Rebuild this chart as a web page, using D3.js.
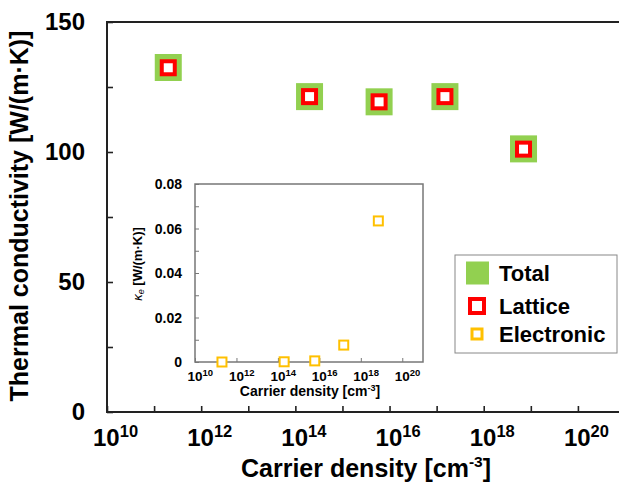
<!DOCTYPE html>
<html>
<head>
<meta charset="utf-8">
<script src="https://cdn.jsdelivr.net/npm/d3@7"></script>
<style>
  body { margin: 0; background: #fff; }
  text { font-family: Arial, "Liberation Sans", sans-serif; fill: #000; }
</style>
</head>
<body>
<svg id="chart" width="619" height="489"></svg>
<script>
// data
const density = [2e11, 2e14, 6e15, 1.5e17, 7e18]
const total = [132.5, 121.3, 119.3, 121.3, 101.2]
const lattice = [132.4, 121.3, 119.3, 121.3, 101.1]
const electronic = [0.0000, 0.0001, 0.0005, 0.0076, 0.0634]
const xTickExp = [10, 12, 14, 16, 18, 20]
const yTicks = [0, 50, 100, 150]
const insetYTicks = [0, 0.02, 0.04, 0.06, 0.08]
const legendNames = ['Total', 'Lattice', 'Electronic']

const colors = { total: '#92d050', lattice: '#ff0000', electronic: '#ffc000' }

const svg = d3.select('#chart')

// ---- main plot ----
const x = d3.scaleLog().domain([1e10, 1e21]).range([107, 625])
const y = d3.scaleLinear().domain([0, 150]).range([412, 22])

// ticks (inward)
svg.append('g')
  .attr('transform', 'translate(0,412)')
  .call(d3.axisBottom(x).tickValues(d3.range(10, 21).map(e => Math.pow(10, e))).tickSize(-6).tickFormat(''))
  .call(g => g.select('.domain').remove())
  .selectAll('line').attr('stroke', '#222').attr('stroke-width', 1.6)

svg.append('g')
  .attr('transform', 'translate(107,0)')
  .call(d3.axisLeft(y).tickValues(d3.range(0, 151, 25)).tickSize(-6).tickFormat(''))
  .call(g => g.select('.domain').remove())
  .selectAll('line').attr('stroke', '#222').attr('stroke-width', 1.6)

// frame
svg.append('path')
  .attr('d', `M${x(1e21)},${y(150)}H${x(1e10)}V${y(0)}H${x(1e21)}`)
  .attr('fill', 'none').attr('stroke', '#222').attr('stroke-width', 2)

// x tick labels with superscripts
const xl = svg.append('g').selectAll('text').data(xTickExp).join('text')
  .attr('x', d => x(Math.pow(10, d)) - 14)
  .attr('y', 446)
  .attr('font-size', 24).attr('font-weight', 'bold')
xl.append('tspan').text('10')
xl.append('tspan').attr('font-size', 16.5).attr('dy', -9).text(d => d)

svg.append('g').selectAll('text').data(yTicks).join('text')
  .attr('x', 85).attr('y', d => y(d) + 8)
  .attr('text-anchor', 'end')
  .attr('font-size', 24).attr('font-weight', 'bold')
  .text(d => d)

// axis titles
const xt = svg.append('text')
  .attr('x', 366).attr('y', 477)
  .attr('text-anchor', 'middle')
  .attr('font-size', 25).attr('font-weight', 'bold')
xt.append('tspan').text('Carrier density [cm')
xt.append('tspan').attr('font-size', 15.5).attr('dy', -10).text('-3')
xt.append('tspan').attr('dy', 10).text(']')

svg.append('text')
  .attr('transform', 'translate(28,216) rotate(-90)')
  .attr('text-anchor', 'middle')
  .attr('font-size', 25).attr('font-weight', 'bold')
  .text('Thermal conductivity [W/(m\u00b7K)]')

// markers
const pts = density.map((d, i) => ({ d, total: total[i], lattice: lattice[i], electronic: electronic[i] }))

svg.append('g').selectAll('rect').data(pts).join('rect')
  .attr('x', p => x(p.d) - 13.5).attr('y', p => y(p.total) - 13.5)
  .attr('width', 27).attr('height', 27)
  .attr('fill', colors.total)

svg.append('g').selectAll('rect').data(pts).join('rect')
  .attr('x', p => x(p.d) - 6.5).attr('y', p => y(p.lattice) - 6.5)
  .attr('width', 13).attr('height', 13)
  .attr('fill', '#fff').attr('stroke', colors.lattice).attr('stroke-width', 4)

// ---- inset ----
const ix = d3.scaleLog().domain([1e10, 1e21]).range([195, 423])
const iy = d3.scaleLinear().domain([0, 0.08]).range([362, 184])

svg.append('rect')
  .attr('x', 195).attr('y', 184).attr('width', 228).attr('height', 178)
  .attr('fill', '#fff').attr('stroke', '#777').attr('stroke-width', 1.5)

svg.append('g')
  .attr('transform', 'translate(0,362)')
  .call(d3.axisBottom(ix).tickValues(xTickExp.map(e => Math.pow(10, e))).tickSize(-4).tickFormat(''))
  .call(g => g.select('.domain').remove())
  .selectAll('line').attr('stroke', '#777')

svg.append('g')
  .attr('transform', 'translate(195,0)')
  .call(d3.axisLeft(iy).tickValues(d3.range(0, 9).map(i => i * 0.01)).tickSize(-4).tickFormat(''))
  .call(g => g.select('.domain').remove())
  .selectAll('line').attr('stroke', '#777')

svg.append('g').selectAll('text').data(insetYTicks).join('text')
  .attr('x', 182).attr('y', d => iy(d) + 5)
  .attr('text-anchor', 'end')
  .attr('font-size', 14).attr('font-weight', 'bold')
  .text(d => d === 0 ? '0' : d.toFixed(2))

const ixl = svg.append('g').selectAll('text').data(xTickExp).join('text')
  .attr('x', d => ix(Math.pow(10, d)) - 7.5)
  .attr('y', 381)
  .attr('font-size', 13.5).attr('font-weight', 'bold')
ixl.append('tspan').text('10')
ixl.append('tspan').attr('font-size', 9.5).attr('dy', -5.5).text(d => d)

const ixt = svg.append('text')
  .attr('x', 310).attr('y', 396)
  .attr('text-anchor', 'middle')
  .attr('font-size', 14).attr('font-weight', 'bold')
ixt.append('tspan').text('Carrier density [cm')
ixt.append('tspan').attr('font-size', 9).attr('dy', -5.5).text('-3')
ixt.append('tspan').attr('dy', 5.5).text(']')

const iyt = svg.append('text')
  .attr('transform', 'translate(142,264) rotate(-90)')
  .attr('text-anchor', 'middle')
  .attr('font-size', 13).attr('font-weight', 'bold')
iyt.append('tspan').attr('font-style', 'italic').attr('font-weight', 'normal').text('\u03ba')
iyt.append('tspan').attr('font-style', 'italic').attr('font-weight', 'normal').attr('font-size', 9).attr('dy', 2).text('e')
iyt.append('tspan').attr('dy', -2).text(' [W/(m\u00b7K)]')

svg.append('g').selectAll('rect').data(pts).join('rect')
  .attr('x', p => ix(p.d) - 4.5).attr('y', p => iy(p.electronic) - 4.5)
  .attr('width', 9).attr('height', 9)
  .attr('fill', '#fff').attr('stroke', colors.electronic).attr('stroke-width', 2)

// ---- legend ----
const lg = svg.append('g')
lg.append('rect')
  .attr('x', 455).attr('y', 255).attr('width', 162).attr('height', 98)
  .attr('fill', '#fff').attr('stroke', '#888').attr('stroke-width', 1)

const rowY = [273, 306, 334]
lg.append('rect').attr('x', 466).attr('y', rowY[0] - 11.5).attr('width', 23).attr('height', 23).attr('fill', colors.total)
lg.append('rect').attr('x', 470).attr('y', rowY[1] - 7).attr('width', 14).attr('height', 14)
  .attr('fill', '#fff').attr('stroke', colors.lattice).attr('stroke-width', 4)
lg.append('rect').attr('x', 472).attr('y', rowY[2] - 5).attr('width', 10).attr('height', 10)
  .attr('fill', '#fff').attr('stroke', colors.electronic).attr('stroke-width', 3)

lg.selectAll('text.lab').data(legendNames).join('text')
  .attr('class', 'lab')
  .attr('x', 499).attr('y', (d, i) => rowY[i] + 8)
  .attr('font-size', 22).attr('font-weight', 'bold')
  .text(d => d)
</script>
</body>
</html>
